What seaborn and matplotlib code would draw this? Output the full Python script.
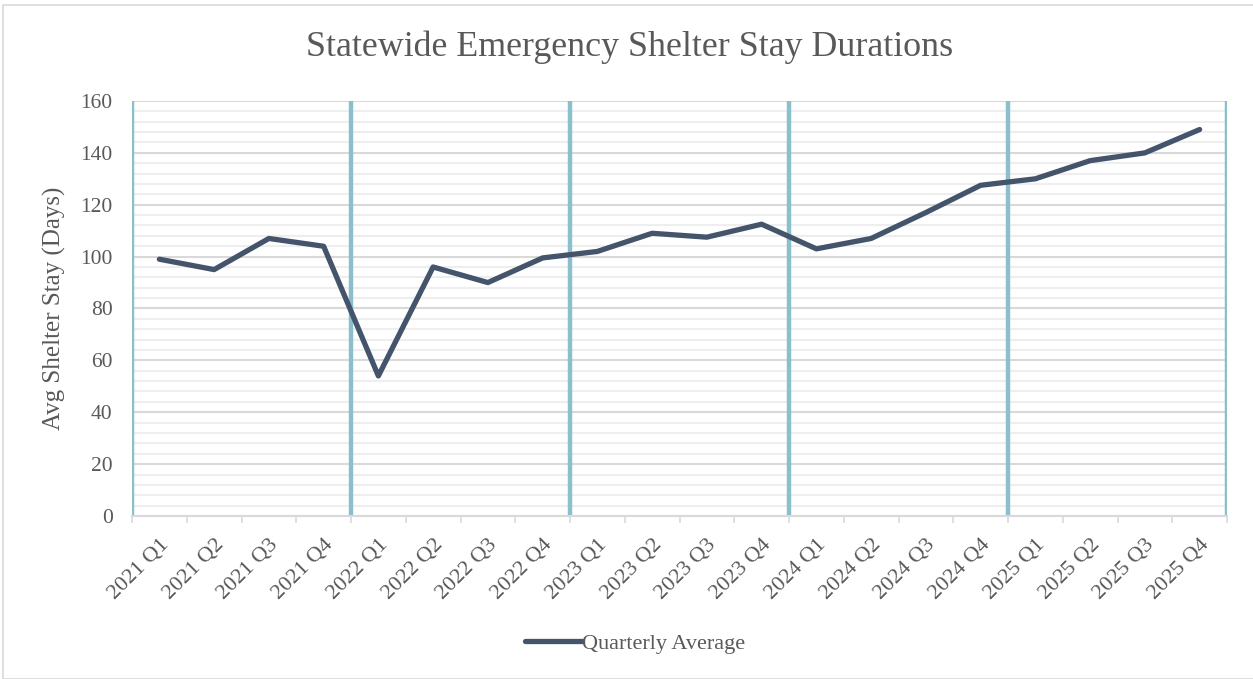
import numpy as np
import pandas as pd
import matplotlib
matplotlib.use("Agg")
import matplotlib.pyplot as plt
import seaborn as sns
from matplotlib.ticker import MultipleLocator, FixedLocator
from matplotlib.lines import Line2D
from matplotlib.patches import Rectangle

quarters = ["2021 Q1", "2021 Q2", "2021 Q3", "2021 Q4",
            "2022 Q1", "2022 Q2", "2022 Q3", "2022 Q4",
            "2023 Q1", "2023 Q2", "2023 Q3", "2023 Q4",
            "2024 Q1", "2024 Q2", "2024 Q3", "2024 Q4",
            "2025 Q1", "2025 Q2", "2025 Q3", "2025 Q4"]
avg_stay = [99, 95, 107, 104,
            54, 96, 90, 99.5,
            102, 109, 107.5, 112.5,
            103, 107, 117, 127.5,
            130, 137, 140, 149]
series_name = "Quarterly Average"
title = "Statewide Emergency Shelter Stay Durations"
ylabel = "Avg Shelter Stay (Days)"

sns.set_theme(style="white")
plt.rcParams['font.family'] = ['Liberation Serif', 'DejaVu Serif']

text_color = "#595959"
line_color = "#44546a"
year_color = "#8bbfcc"

df = pd.DataFrame({"quarter": quarters, "value": avg_stay})
df["pos"] = np.arange(len(df))

fig = plt.figure(figsize=(12.53, 6.79), dpi=100)
ax = fig.add_axes([132 / 1253, 1 - 516 / 679, (1227 - 132) / 1253, (516 - 101) / 679])

# gridlines
ax.set_ylim(0, 160)
ax.set_xlim(-0.5, len(quarters) - 0.5)
ax.yaxis.set_major_locator(MultipleLocator(20))
ax.yaxis.set_minor_locator(MultipleLocator(4))
ax.grid(which="minor", axis="y", color="#eeeeee", lw=1.5, zorder=0)
ax.grid(which="major", axis="y", color="#d9d9d9", lw=1.5, zorder=0)
ax.grid(which="both", axis="x", visible=False)
ax.set_axisbelow(True)

# year separators
for b in np.arange(-0.5, len(quarters), 4):
    ax.axvline(b, color=year_color, lw=3.2, zorder=1)

sns.lineplot(data=df, x="pos", y="value", ax=ax, color=line_color, lw=3.8,
             solid_capstyle="round", solid_joinstyle="round", zorder=3, legend=False)

ax.set_xticks(df["pos"])
ax.set_xticklabels(quarters, rotation=45, ha="right", rotation_mode="anchor",
                   fontsize=16, color=text_color)
ax.xaxis.set_minor_locator(FixedLocator(np.arange(-0.5, len(quarters), 1)))
ax.tick_params(axis="x", which="major", length=0, pad=14)
ax.tick_params(axis="x", which="minor", length=5, color="#d9d9d9", width=1.2, bottom=True)
ax.tick_params(axis="y", which="both", length=0, labelsize=15.5, labelcolor=text_color, pad=14)

for s in ["top", "right", "left"]:
    ax.spines[s].set_visible(False)
ax.spines["bottom"].set_color("#d9d9d9")
ax.spines["bottom"].set_linewidth(1.5)

ax.set_xlabel("")
ax.set_ylabel(ylabel, fontsize=18, color=text_color)
ax.yaxis.set_label_coords(-66 / (1227 - 132), 0.5)

fig.text(630 / 1253, 1 - 47 / 679, title, ha="center", va="center",
         fontsize=25.8, color=text_color)

handle = Line2D([], [], color=line_color, lw=3.8, solid_capstyle="round")
fig.legend([handle], [series_name], loc="center", bbox_to_anchor=(635 / 1253, 1 - 644 / 679),
           frameon=False, fontsize=16, labelcolor=text_color, handlelength=2.6,
           handletextpad=0.0)

fig.patches.append(Rectangle((3 / 1253, 0.0), 1.2, 1 - 5 / 679, transform=fig.transFigure,
                             fill=False, edgecolor="#d9d9d9", lw=1.2))

fig.savefig("out.png", dpi=100)
